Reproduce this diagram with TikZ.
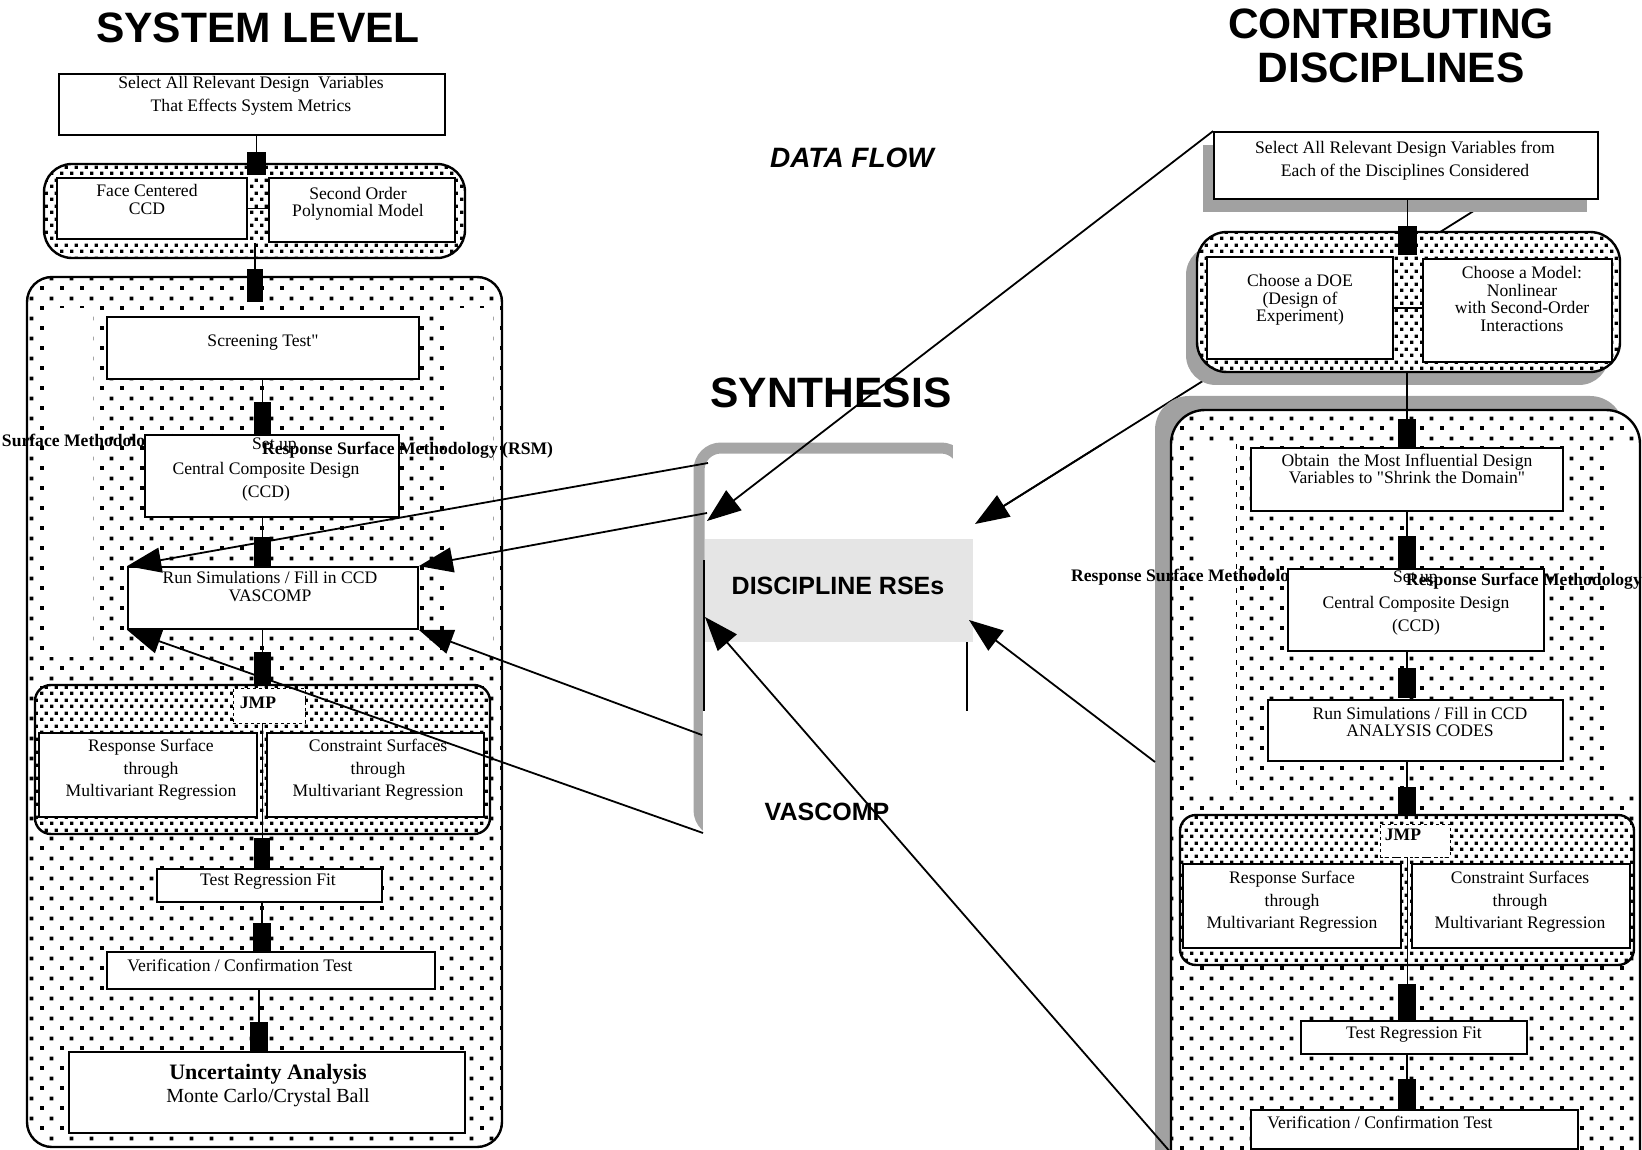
\documentclass[tikz,border=0pt]{standalone}
\usepackage{fontspec}
\setmainfont{Liberation Serif}[Ligatures=TeXOff]
\setsansfont{Liberation Sans}
\usetikzlibrary{patterns,fit,arrows.meta,calc}

% staggered square-dot fills
\pgfdeclarepatternformonly{sqsparse}{\pgfqpoint{0pt}{0pt}}{\pgfqpoint{20pt}{20pt}}{\pgfqpoint{20pt}{20pt}}{%
  \pgfpathrectangle{\pgfqpoint{0pt}{0pt}}{\pgfqpoint{4pt}{4pt}}%
  \pgfpathrectangle{\pgfqpoint{10pt}{10pt}}{\pgfqpoint{4pt}{4pt}}%
  \pgfusepath{fill}}
\pgfdeclarepatternformonly{sqdense}{\pgfqpoint{0pt}{0pt}}{\pgfqpoint{10pt}{13pt}}{\pgfqpoint{10pt}{13pt}}{%
  \pgfpathrectangle{\pgfqpoint{0pt}{0pt}}{\pgfqpoint{3.6pt}{3.6pt}}%
  \pgfpathrectangle{\pgfqpoint{5pt}{6.5pt}}{\pgfqpoint{3.6pt}{3.6pt}}%
  \pgfusepath{fill}}

\begin{document}
\begin{tikzpicture}[x=1pt,y=-1pt,
  box/.style={draw, line width=1.8pt, fill=white, inner sep=0pt},
  grpdense/.style={draw, line width=2.4pt, rounded corners=#1, preaction={fill=white}, pattern=sqdense, inner sep=0pt},
  grpsparse/.style={draw, line width=2.4pt, rounded corners=#1, preaction={fill=white}, pattern=sqsparse, inner sep=0pt},
  shade/.style={fill=black!37, draw=none, inner sep=0pt},
  joint/.style={fill=black, draw=none, inner sep=0pt},
  conn/.style={line width=1.6pt},
  thinconn/.style={line width=1pt},
  jmpbox/.style={draw, dashed, line width=0.6pt, fill=white, inner sep=0pt},
  txt/.style={inner sep=0pt, align=center, font=\fontsize{17.6}{17.5}\selectfont},
  txtm/.style={inner sep=0pt, align=center, font=\fontsize{17.6}{22.5}\selectfont},
  txtw/.style={inner sep=0pt, align=center, font=\fontsize{17.6}{23}\selectfont},
  lbl/.style={inner sep=0pt, font=\fontsize{17.6}{20}\selectfont\bfseries},
  head/.style={inner sep=0pt, font=\fontsize{42.5}{45}\selectfont\sffamily\bfseries},
  sans/.style={inner sep=0pt, font=\fontsize{25}{27}\selectfont\sffamily\bfseries},
  flow/.style={-{Triangle[length=34pt,width=25pt]}, line width=1.8pt},
  plainflow/.style={line width=1.8pt},
  frame/.style={line width=11pt, draw=black!35, rounded corners=22pt}
]
\useasboundingbox (0,0) rectangle (1642,1150);
\clip (0,0) rectangle (1642,1150);
\fill[white] (0,0) rectangle (1642,1150);

% headings
\node[head] (hSys) at (258,28) {SYSTEM LEVEL};
\node[head] (hCon1) at (1391,24) {CONTRIBUTING};
\node[head] (hCon2) at (1391,68) {DISCIPLINES};
\node[inner sep=0pt, font=\fontsize{28}{30}\selectfont\sffamily\bfseries\itshape] (hFlow) at (852,158) {DATA FLOW};

% data line running behind the discipline column (its head is drawn later)
\coordinate (a2s) at (1480,207);
\coordinate (a2t) at (975,524);
\draw[plainflow] (a2s) -- (a2t);

% ---------------- system level ----------------
\node[box, fit={(59,74) (445,135)}] (bA) {};
\node[txtw] (tA) at (251,96) {Select All Relevant Design\ \ Variables\\That Effects System Metrics};

\node[grpdense=28pt, fit={(44,164) (465,258)}] (g1) {};
\node[box, fit={(57,178) (247,239)}] (bFC) {};
\node[txt] (tFC) at (147,199.5) {Face Centered\\CCD};
\node[box, fit={(269,178) (455,242)}] (bSO) {};
\node[txt] (tSO) at (358,204) {Second Order\\Polynomial Model};
\draw[conn] (bFC.east) -- (bSO.west |- bFC.east);
\node[joint, fit={(247,152) (266,175)}] (j1) {};
\draw[conn] (j1 |- bA.south) -- (j1.north);

\node[grpsparse=25pt, fit={(27,277) (502,1147)}] (g2) {};
\fill[white] (49,308) rectangle (93,657);
\fill[white] (449,308) rectangle (493,657);
\node[joint, fit={(247,269) (263,302)}] (j2) {};
\draw[conn] (j2 |- bSO.south) -- (j2.north);

\node[box, fit={(107,317) (419,379)}] (bScr) {};
\node[txt] (tScr) at (263,343) {Screening Test"};
\node[joint, fit={(254,402) (271,435)}] (j3) {};
\draw[conn] (j3 |- bScr.south) -- (j3.north);

\node[lbl, anchor=west] (rsmL1) at (-73,442) {Response Surface Methodology (RSM)};
\node[box, fit={(145,435) (399,517)}] (bCCD) {};
\node[txtw] (tCCD) at (266,482) {Central Composite Design\\(CCD)};
\node[txt, anchor=west] (tSet) at (252,446) {Set up};
\node[lbl, anchor=west] (rsmL2) at (262,450) {Response Surface Methodology (RSM)};

\node[joint, fit={(254,537) (271,567)}] (j4) {};
\draw[conn] (j4 |- bCCD.south) -- (j4.north);
\node[box, fit={(128,567) (418,629)}] (bRun) {};
\node[txt] (tRun) at (270,586.5) {Run Simulations / Fill in CCD\\VASCOMP};

\node[joint, fit={(254,652) (271,684)}] (j5) {};
\draw[conn] (j5 |- bRun.south) -- (j5.north);
\node[grpdense=16pt, fit={(35,685) (490,834)}] (g3) {};
\node[jmpbox, fit={(233,688) (305,723)}] (jmpB) {};
\node[lbl] (tJMP) at (258,703) {JMP};
\node[box, fit={(39,733) (257,817)}] (bRS) {};
\node[txtm] (tRS) at (151,770) {Response Surface\\through\\Multivariant Regression};
\node[box, fit={(267,733) (484,817)}] (bCS) {};
\node[txtm] (tCS) at (378,770) {Constraint Surfaces\\through\\Multivariant Regression};
\node[joint, fit={(254,838) (270,868)}] (j6) {};
\draw[thinconn] (j6 |- jmpB.south) -- (j6.north);

\node[box, fit={(157,869) (382,902)}] (bTRF) {};
\node[txt] (tTRF) at (268,882) {Test Regression Fit};
\node[joint, fit={(253,923) (271,952)}] (j7) {};
\draw[conn] (j7 |- bTRF.south) -- (j7.north);
\node[box, fit={(107,952) (435,989)}] (bVer) {};
\node[txt] (tVer) at (240,965) {Verification / Confirmation Test};
\node[joint, fit={(250,1022) (268,1052)}] (j8) {};
\draw[conn] (j8 |- bVer.south) -- (j8.north);
\node[box, fit={(69,1052) (465,1133)}] (bUnc) {};
\node[inner sep=0pt, align=center, font=\fontsize{20}{23}\selectfont] (tUnc) at (268,1086) {{\fontsize{22}{23}\selectfont\bfseries Uncertainty Analysis}\\Monte Carlo/Crystal Ball};

% ---------------- contributing disciplines ----------------
\node[shade, fit={(1203,145) (1587,212)}] (sR1) {};
\node[box, fit={(1214,132) (1598,199)}] (bR1) {};
\node[txtw] (tR1) at (1405,161) {Select All Relevant Design Variables from\\Each of the Disciplines Considered};

\node[shade, rounded corners=30pt, fit={(1186,245) (1609,385)}] (sRG1) {};
\node[grpdense=30pt, fit={(1197,232) (1620,372)}] (rg1) {};
\node[box, fit={(1207,257) (1393,359)}] (bDOE) {};
\node[txt] (tDOE) at (1300,300) {Choose a DOE\\(Design of\\Experiment)};
\node[box, fit={(1423,259) (1612,362)}] (bMod) {};
\node[txt] (tMod) at (1522,299) {Choose a Model:\\Nonlinear\\with Second-Order\\Interactions};
\draw[conn] (bDOE.east) -- (bMod.west |- bDOE.east);
\node[joint, fit={(1398,226) (1417,255)}] (r1) {};
\draw[conn] (r1 |- bR1.south) -- (r1.north);

\node[shade, rounded corners=34pt, fit={(1155,396) (1624,1180)}] (sRG2) {};
\node[grpsparse=34pt, fit={(1171,410) (1640,1194)}] (rg2) {};
\fill[white] (1199,442) rectangle (1234,792);
\fill[white] (1609,442) rectangle (1634,792);
\draw[line width=0.8pt, dash pattern=on 5pt off 7pt] (1236,444) -- (1236,792);
\node[joint, fit={(1398,419) (1416,450)}] (r2) {};
\draw[conn] (r2 |- rg1.south) -- (r2.north);

\node[box, fit={(1251,448) (1563,511)}] (bObt) {};
\node[txt] (tObt) at (1407,469) {Obtain\ \ the Most Influential Design\\Variables to "Shrink the Domain"};
\node[joint, fit={(1398,536) (1416,569)}] (r3) {};
\draw[conn] (r3 |- bObt.south) -- (r3.north);

\node[lbl, anchor=west] (rsmR1) at (1071,577) {Response Surface Methodology (RSM)};
\node[box, fit={(1288,569) (1544,651)}] (bCCDr) {};
\node[txtw] (tCCDr) at (1416,616) {Central Composite Design\\(CCD)};
\node[txt, anchor=west] (tSetr) at (1393,579) {Set up};
\node[lbl, anchor=west] (rsmR2) at (1406,581) {Response Surface Methodology (RSM)};

\node[joint, fit={(1398,668) (1416,698)}] (r4) {};
\draw[conn] (r4 |- bCCDr.south) -- (r4.north);
\node[box, fit={(1268,700) (1563,761)}] (bRunr) {};
\node[txt] (tRunr) at (1420,722) {Run Simulations / Fill in CCD\\ANALYSIS CODES};

\node[joint, fit={(1398,787) (1416,817)}] (r5) {};
\draw[conn] (r5 |- bRunr.south) -- (r5.north);
\node[grpdense=16pt, fit={(1180,815) (1634,965)}] (rg3) {};
\node[jmpbox, fit={(1380,824) (1450,857)}] (jmpBr) {};
\node[lbl] (tJMPr) at (1403,835) {JMP};
\node[box, fit={(1183,864) (1401,948)}] (bRSr) {};
\node[txtm] (tRSr) at (1292,902) {Response Surface\\through\\Multivariant Regression};
\node[box, fit={(1412,864) (1630,948)}] (bCSr) {};
\node[txtm] (tCSr) at (1520,902) {Constraint Surfaces\\through\\Multivariant Regression};
\node[joint, fit={(1398,984) (1416,1021)}] (r6) {};
\draw[thinconn] (r6 |- jmpBr.south) -- (r6.north);

\node[box, fit={(1301,1021) (1527,1054)}] (bTRFr) {};
\node[txt] (tTRFr) at (1414,1035) {Test Regression Fit};
\node[joint, fit={(1398,1079) (1416,1110)}] (r7) {};
\draw[conn] (r7 |- bTRFr.south) -- (r7.north);
\node[box, fit={(1251,1110) (1578,1149)}] (bVerr) {};
\node[txt] (tVerr) at (1380,1122) {Verification / Confirmation Test};

% ---------------- synthesis ----------------
\node[head] (hSyn) at (831,393) {SYNTHESIS};
\draw[frame] (699,448) rectangle (963,832);
\fill[white] (703,711) rectangle (1000,880);
\fill[white] (953,435) rectangle (1000,711);
\node[fill=black!10, inner sep=0pt, fit={(705,539) (973,642)}] (rse) {};
\node[sans] (tRse) at (838,586) {DISCIPLINE RSEs};
\draw[line width=1.6pt] (704,560) -- (704,711);
\draw[line width=1.6pt] (967,642) -- (967,711);
\node[sans] (tVas) at (827,812) {VASCOMP};

% data flow arrows
\coordinate (s1) at (708,463);
\coordinate (s2) at (707,513);
\coordinate (s3) at (702,735);
\coordinate (s4) at (703,833);
\draw[flow] (s1) -- (bRun.north west);
\draw[flow] (s2) -- (bRun.north east);
\draw[flow] (s3) -- (bRun.south east);
\draw[flow] (s4) -- (bRun.south west);

\coordinate (a2m) at ($(a2s)!0.75!(a2t)$);
\draw[flow] (a2m) -- (a2t);
\coordinate (a1t) at (707,521);
\draw[flow] (bR1.north west) -- (a1t);
\coordinate (a5s) at (1155,762);
\coordinate (a5t) at (969,620);
\draw[flow] (a5s) -- (a5t);
\coordinate (a6s) at (1172,1154);
\coordinate (a6t) at (705,617);
\draw[flow] (a6s) -- (a6t);
\end{tikzpicture}
\end{document}
